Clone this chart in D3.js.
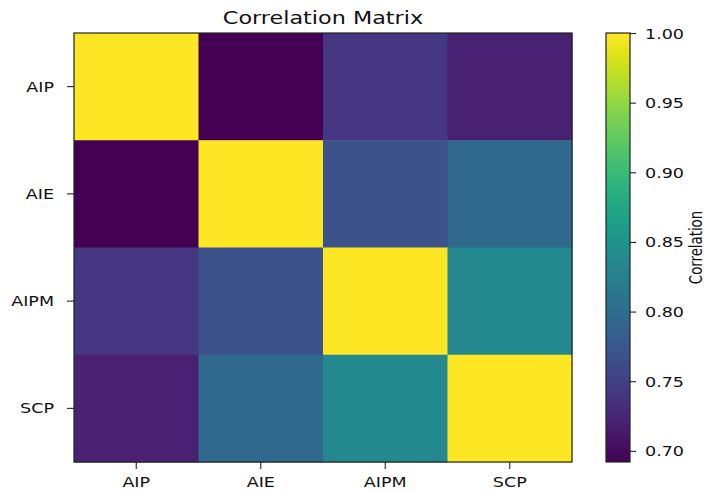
<!DOCTYPE html>
<html>
<head>
<meta charset="utf-8">
<style>
body {
    margin: 0;
    background: #fff;
}
#chart text {
    font-family: "DejaVu Sans", Verdana, sans-serif;
    fill: #111;
}
</style>
<script src="https://cdnjs.cloudflare.com/ajax/libs/d3/7.8.5/d3.min.js"></script>
</head>
<body>
<div id="chart"></div>
<script>
// correlation matrix, one array per row
var labels = ["AIP", "AIE", "AIPM", "SCP"];
var rowAIP  = [1.000, 0.692, 0.741, 0.720];
var rowAIE  = [0.692, 1.000, 0.769, 0.795];
var rowAIPM = [0.741, 0.769, 1.000, 0.837];
var rowSCP  = [0.720, 0.795, 0.837, 1.000];
var rows = [rowAIP, rowAIE, rowAIPM, rowSCP];
var colorbarTicks = [0.70, 0.75, 0.80, 0.85, 0.90, 0.95, 1.00];

var width = 706, height = 492;
var plot = {left: 74, top: 33, right: 572, bottom: 462};
var cbar = {left: 606, right: 630};
// the reference is stretched sideways, so glyphs get widened too
var stretch = 1.28;

var svg = d3.select("#chart").append("svg")
    .attr("width", width)
    .attr("height", height);

var cells = [];
rows.forEach(function(r, i) {
    r.forEach(function(v, j) {
        cells.push({row: labels[i], col: labels[j], value: v});
    });
});

var vmin = d3.min(cells, function(d) { return d.value; });
var vmax = d3.max(cells, function(d) { return d.value; });

var x = d3.scaleBand().domain(labels).range([plot.left, plot.right]);
var y = d3.scaleBand().domain(labels).range([plot.top, plot.bottom]);
var color = d3.scaleSequential(d3.interpolateViridis).domain([vmin, vmax]);

svg.append("g")
    .selectAll("rect")
    .data(cells)
    .enter().append("rect")
        .attr("x", function(d) { return x(d.col); })
        .attr("y", function(d) { return y(d.row); })
        .attr("width", x.bandwidth() + 0.5)
        .attr("height", y.bandwidth() + 0.5)
        .attr("fill", function(d) { return color(d.value); });

svg.append("rect")
    .attr("x", plot.left)
    .attr("y", plot.top)
    .attr("width", plot.right - plot.left)
    .attr("height", plot.bottom - plot.top)
    .attr("fill", "none")
    .attr("stroke", "#222")
    .attr("stroke-width", 1.2);

// axes
var xAxis = svg.append("g")
    .attr("transform", "translate(0," + plot.bottom + ")")
    .call(d3.axisBottom(x).tickSize(7).tickSizeOuter(0));
xAxis.select(".domain").remove();
xAxis.selectAll("line").attr("stroke", "#222").attr("stroke-width", 1.1);
xAxis.selectAll("text")
    .attr("y", 25)
    .attr("dy", null)
    .attr("font-size", "13.7px")
    .attr("transform", "scale(" + stretch + ",1)");

var yAxis = svg.append("g")
    .attr("transform", "translate(" + plot.left + ",0)")
    .call(d3.axisLeft(y).tickSize(7).tickSizeOuter(0));
yAxis.select(".domain").remove();
yAxis.selectAll("line").attr("stroke", "#222").attr("stroke-width", 1.1);
yAxis.selectAll("text")
    .attr("x", 0)
    .attr("y", 5)
    .attr("dy", null)
    .attr("font-size", "13.7px")
    .attr("transform", "translate(-20,0) scale(" + stretch + ",1)");

// title
svg.append("text")
    .attr("text-anchor", "middle")
    .attr("font-size", "18px")
    .attr("transform", "translate(" + (plot.left + plot.right) / 2 + ",23.5) scale(1.24,1)")
    .text("Correlation Matrix");

// colorbar
var cbScale = d3.scaleLinear().domain([vmin, vmax]).range([plot.bottom, plot.top]);

var grad = svg.append("defs").append("linearGradient")
    .attr("id", "cbgrad")
    .attr("x1", 0).attr("y1", 1)
    .attr("x2", 0).attr("y2", 0);
grad.selectAll("stop")
    .data(d3.range(0, 1.0001, 0.05))
    .enter().append("stop")
        .attr("offset", function(t) { return t; })
        .attr("stop-color", function(t) { return d3.interpolateViridis(t); });

svg.append("rect")
    .attr("x", cbar.left)
    .attr("y", plot.top)
    .attr("width", cbar.right - cbar.left)
    .attr("height", plot.bottom - plot.top)
    .attr("fill", "url(#cbgrad)")
    .attr("stroke", "#222")
    .attr("stroke-width", 1.2);

var cAxis = svg.append("g")
    .attr("transform", "translate(" + cbar.right + ",0)")
    .call(d3.axisRight(cbScale).tickValues(colorbarTicks).tickFormat(d3.format(".2f")).tickSize(6).tickSizeOuter(0));
cAxis.select(".domain").remove();
cAxis.selectAll("line").attr("stroke", "#222").attr("stroke-width", 1.1);
cAxis.selectAll("text")
    .attr("x", 0)
    .attr("y", 5)
    .attr("dy", null)
    .attr("font-size", "13.7px")
    .attr("transform", "translate(15,0) scale(" + stretch + ",1)");

svg.append("text")
    .attr("text-anchor", "middle")
    .attr("font-size", "13.3px")
    .attr("transform", "translate(702," + (plot.top + plot.bottom) / 2 + ") scale(" + stretch + ",1) rotate(-90)")
    .text("Correlation");
</script>
</body>
</html>
